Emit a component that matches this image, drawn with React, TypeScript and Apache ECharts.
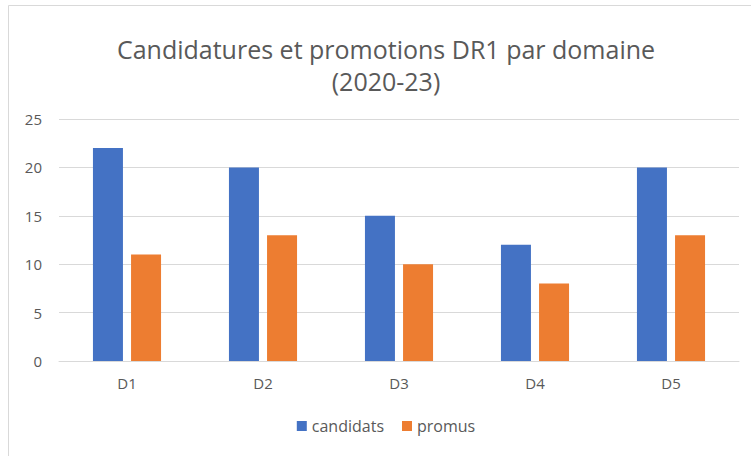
import React, { useEffect, useRef } from "react";
import * as echarts from "echarts";

const categories = ["D1", "D2", "D3", "D4", "D5"];
const candidats = [22, 20, 15, 12, 20];
const promus = [11, 13, 10, 8, 13];
const titleLines = ["Candidatures et promotions DR1 par domaine", "(2020-23)"];

export default function App() {
  const ref = useRef<HTMLDivElement>(null);
  useEffect(() => {
    if (!ref.current) return;
    const chart = echarts.init(ref.current, undefined, { renderer: "svg" });
    const font = "'Open Sans', 'Noto Sans', sans-serif";
    chart.setOption({
      animation: false,
      backgroundColor: "#ffffff",
      textStyle: { fontFamily: font },
      graphic: [
        {
          type: "rect",
          shape: { x: 8.5, y: 5.5, width: 820, height: 500 },
          style: { fill: "none", stroke: "#d9d9d9", lineWidth: 1 },
          silent: true,
        },
      ],
      title: {
        text: titleLines.join("\n"),
        left: "center",
        top: 28,
        textStyle: {
          fontFamily: font,
          fontSize: 25,
          fontWeight: "normal",
          color: "#595959",
          lineHeight: 32,
        },
      },
      legend: {
        bottom: 17,
        left: "center",
        itemWidth: 10,
        itemHeight: 10,
        itemGap: 18,
        icon: "rect",
        textStyle: { fontFamily: font, fontSize: 16, color: "#595959" },
        data: ["candidats", "promus"],
      },
      grid: { left: 59, right: 33, top: 119, bottom: 95 },
      xAxis: {
        type: "category",
        data: categories,
        axisLine: { lineStyle: { color: "#d9d9d9" } },
        axisTick: { show: false },
        axisLabel: { color: "#595959", fontSize: 15, margin: 14, fontFamily: font },
      },
      yAxis: {
        type: "value",
        min: 0,
        max: 25,
        interval: 5,
        axisLine: { show: false },
        axisTick: { show: false },
        splitLine: { lineStyle: { color: "#d9d9d9", width: 1 } },
        axisLabel: { color: "#595959", fontSize: 15, margin: 17, fontFamily: font },
      },
      series: [
        {
          name: "candidats",
          type: "bar",
          data: candidats,
          barWidth: 30,
          barGap: "27%",
          itemStyle: { color: "#4472C4" },
        },
        {
          name: "promus",
          type: "bar",
          data: promus,
          barWidth: 30,
          itemStyle: { color: "#ED7D31" },
        },
      ],
    });
    return () => chart.dispose();
  }, []);
  return (
    <div
      style={{
        position: "absolute",
        left: 0,
        top: 0,
        width: 751,
        height: 456,
        overflow: "hidden",
      }}
    >
      <div ref={ref} style={{ width: 772, height: 456 }} />
    </div>
  );
}
